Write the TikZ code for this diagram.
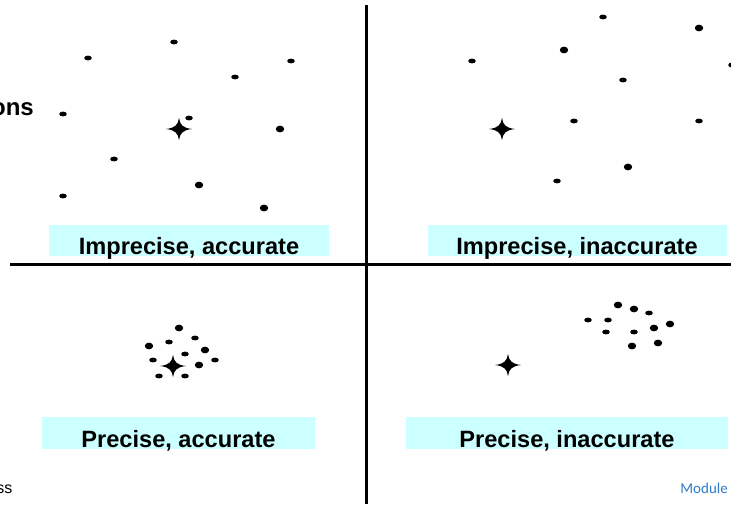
\documentclass[tikz,border=0pt]{standalone}
\usepackage{fontspec}
\setmainfont{Liberation Sans}
\newfontfamily\calib{Carlito}
\definecolor{boxcyan}{HTML}{CCFFFF}
\definecolor{modblue}{HTML}{2E7BCF}
\tikzset{
  lbox/.style={fill=boxcyan, draw=none},
  lbl/.style={font=\bfseries\fontsize{23.6}{28}\selectfont, anchor=base, inner sep=0pt},
  divider/.style={line width=3pt, black},
  target/.pic={\fill[black] (-13,0) .. controls (-4,-1) and (-1,-4) .. (0,-11)
      .. controls (1,-4) and (4,-1) .. (13,0)
      .. controls (4,1) and (1,4) .. (0,11)
      .. controls (-1,4) and (-4,1) .. (-13,0) -- cycle;}
}
\begin{document}
\begin{tikzpicture}[x=1pt,y=-1pt]
\useasboundingbox (0,0) rectangle (731,504);
\fill[white] (0,0) rectangle (731,504);
% dividers
\coordinate (vtop) at (366,5);
\coordinate (vbot) at (366,504);
\coordinate (hl) at (10,264);
\coordinate (hr) at (731,264);
\draw[divider] (vtop) -- (vbot);
\draw[divider] (hl) -- (hr);
% label boxes
\fill[lbox] (49,225) rectangle (329,256);
\fill[lbox] (428,225) rectangle (727,256);
\fill[lbox] (42,417) rectangle (315,449);
\fill[lbox] (406,417) rectangle (728,449);
\node[lbl] (l1) at (189,254) {Imprecise, accurate};
\node[lbl] (l2) at (577,254) {Imprecise, inaccurate};
\node[lbl] (l3) at (178.5,447) {Precise, accurate};
\node[lbl] (l4) at (567,447) {Precise, inaccurate};
% cut-off texts
\node[font=\bfseries\fontsize{24}{28}\selectfont, anchor=base east, inner sep=0pt] (ons) at (34,115) {ons};
\node[font=\fontsize{16}{18}\selectfont, anchor=base east, inner sep=0pt] (ss) at (12.5,493) {ss};
\node[font=\calib\fontsize{15}{17}\selectfont, text=modblue, anchor=base east, inner sep=0pt] (mod) at (728,493) {Module};
% dots top-left
\foreach \x/\y in {88/58,174/42,291/61,235/77,63/114,189/118,114/159,63/196}
  \fill (\x,\y) ellipse (3.8 and 2.4);
\foreach \x/\y in {280/129,199/185,264/208}
  \fill (\x,\y) ellipse (4.2 and 3.4);
% dots top-right
\foreach \x/\y in {603/17,472/61,623/80,574/121,699/121,557/181}
  \fill (\x,\y) ellipse (3.8 and 2.4);
\foreach \x/\y in {699/28,564/50,628/167}
  \fill (\x,\y) ellipse (4.2 and 3.4);
\fill (732,65) ellipse (3.8 and 2.6);
% dots bottom-left
\foreach \x/\y in {169/342,195/338,185/354,153/360,215/360,159/376,185/376}
  \fill (\x,\y) ellipse (3.8 and 2.4);
\foreach \x/\y in {179/328,149/346,205/350,199/365}
  \fill (\x,\y) ellipse (4.2 and 3.4);
% dots bottom-right
\foreach \x/\y in {649/313,588/320,608/320,606/332,634/332}
  \fill (\x,\y) ellipse (3.8 and 2.4);
\foreach \x/\y in {618/305,634/309,654/328,670/324,632/346,658/343}
  \fill (\x,\y) ellipse (4.2 and 3.4);
% targets
\pic at (179,129) {target};
\pic at (502,129) {target};
\pic at (173,366) {target};
\pic at (508,365) {target};
\end{tikzpicture}
\end{document}
